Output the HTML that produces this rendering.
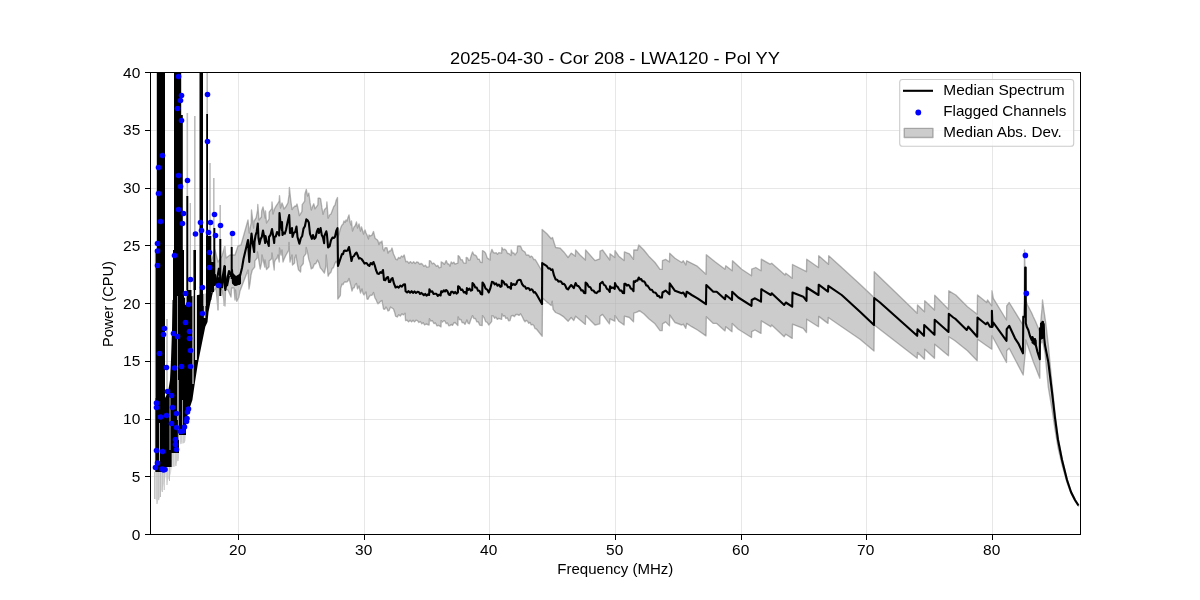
<!DOCTYPE html>
<html><head><meta charset="utf-8"><title>Median Spectrum</title>
<style>html,body{margin:0;padding:0;background:#fff;width:1200px;height:600px;overflow:hidden}svg{display:block;will-change:transform}</style>
</head><body>
<svg width="1200" height="600" viewBox="0 0 1200 600" font-family='"Liberation Sans", sans-serif'><rect x="0" y="0" width="1200" height="600" fill="#ffffff"/><defs><clipPath id="ax"><rect x="150" y="72" width="931" height="463"/></clipPath></defs><g clip-path="url(#ax)"><polygon points="211.0,262.0 215.0,250.0 218.0,262.0 222.0,256.0 224.7,246.7 226.0,258.0 230.0,255.0 235.0,255.0 238.0,246.0 241.0,245.0 248.0,220.0 249.2,233.0 251.2,222.8 251.5,210.0 253.6,228.0 253.8,221.7 256.2,217.6 257.6,210.0 257.8,204.5 259.0,220.0 261.4,217.0 261.7,210.9 263.0,207.0 265.2,218.0 265.5,211.0 266.5,223.0 269.0,219.1 269.2,212.1 271.8,208.6 272.0,202.0 273.0,214.0 274.5,209.0 276.0,206.1 277.5,204.0 279.2,201.1 279.5,195.6 280.5,208.0 282.0,203.0 283.0,205.6 284.0,209.0 285.5,207.3 287.9,203.0 289.1,194.9 289.4,187.5 290.7,199.8 292.0,209.5 293.5,207.4 295.0,206.0 296.0,206.3 297.0,204.0 298.2,209.4 299.4,215.6 301.9,211.7 302.2,204.7 304.7,201.2 304.9,194.2 306.3,189.4 307.5,196.0 308.8,193.1 310.1,202.9 311.3,210.0 312.6,206.5 313.8,203.8 315.0,208.8 317.9,204.8 318.1,198.1 319.4,198.1 320.6,198.8 321.9,207.9 323.1,214.4 324.4,209.8 326.6,207.4 326.9,201.9 328.1,218.1 329.6,215.0 331.0,214.0 332.5,210.0 333.8,206.5 335.0,205.1 336.2,200.2 337.5,197.5 337.8,237.0 338.9,234.8 340.0,230.0 341.0,227.1 342.0,225.0 343.0,224.3 344.0,221.0 345.0,222.5 346.0,220.0 347.0,221.0 348.0,217.6 349.0,215.0 350.0,222.0 351.0,225.0 351.5,221.0 352.5,231.0 354.0,227.0 355.2,225.8 356.5,222.0 357.5,228.0 359.0,224.0 360.5,231.0 361.5,227.0 362.5,230.1 363.5,234.0 365.0,230.0 366.0,233.0 367.0,235.0 368.5,239.0 369.0,235.0 370.5,236.0 372.0,235.1 373.5,231.5 375.0,238.0 376.0,239.0 377.0,239.6 378.0,241.0 379.0,244.5 380.0,242.0 381.0,242.8 382.0,241.0 383.0,249.0 384.0,251.0 385.0,248.0 386.0,247.6 387.0,248.0 388.0,253.0 389.5,251.0 390.8,250.8 392.0,248.0 393.5,254.0 394.6,256.2 395.8,259.2 397.2,259.8 398.6,257.4 400.0,258.4 401.4,256.0 402.8,257.0 404.2,255.0 405.8,261.7 407.4,261.4 408.9,263.2 410.5,261.6 412.1,263.4 413.6,261.8 415.2,263.6 416.7,262.0 418.3,262.5 419.7,264.4 421.1,263.4 422.5,264.4 423.9,266.3 425.4,265.2 426.9,267.4 429.1,266.7 429.4,260.6 430.8,261.2 432.2,263.8 433.6,263.1 435.0,264.4 436.4,266.4 437.8,265.4 439.2,267.8 441.0,267.2 441.2,261.9 442.8,262.8 444.4,264.4 446.2,260.6 447.5,263.8 448.8,264.0 450.0,266.2 451.2,261.9 452.5,263.5 453.8,262.1 455.0,264.1 457.9,263.1 458.1,255.6 459.5,256.7 460.9,259.9 462.2,259.7 463.6,262.9 466.0,263.1 466.2,257.5 467.5,257.9 468.8,260.5 470.0,260.0 471.2,255.6 472.5,251.9 473.8,254.8 475.0,255.0 476.4,256.1 477.8,259.3 479.1,259.1 480.5,262.3 482.2,262.5 482.5,250.6 484.1,251.5 485.6,253.1 487.2,257.9 490.1,260.0 490.3,254.3 491.9,249.4 493.4,252.6 495.0,253.1 496.2,252.7 497.5,254.4 498.8,252.7 501.6,253.1 501.9,247.5 503.3,249.8 504.8,249.2 506.2,250.6 507.5,253.6 508.8,253.5 511.0,255.6 511.2,250.0 512.5,253.0 513.8,252.9 515.0,255.0 517.2,251.9 517.5,246.2 519.0,245.9 520.6,246.2 522.2,250.1 523.8,251.2 525.0,252.1 526.2,255.1 527.5,255.0 528.8,255.1 530.0,257.3 531.2,256.1 532.5,257.0 533.8,259.7 535.0,259.4 536.2,261.2 541.9,271.0 542.1,229.4 546.9,233.8 551.2,238.8 552.5,237.5 555.6,247.5 560.0,248.1 563.8,251.9 568.1,257.5 571.2,253.1 575.4,256.2 575.6,250.0 580.0,255.0 585.4,260.0 585.6,250.0 595.0,260.6 599.8,258.8 600.0,251.2 602.5,250.0 609.8,260.0 610.0,253.8 614.8,257.5 615.0,250.6 618.8,256.2 624.1,260.6 624.4,251.9 629.4,253.8 633.5,259.4 633.8,250.0 637.5,250.0 638.8,245.0 643.8,250.0 648.8,256.2 655.0,262.5 660.0,269.4 662.2,269.4 662.5,260.6 665.6,259.4 669.5,262.0 669.7,253.3 675.0,258.3 681.7,262.5 683.3,260.8 685.8,265.0 686.7,260.8 696.7,265.8 706.0,274.2 706.3,254.7 715.0,261.7 725.0,269.2 725.8,265.8 732.2,270.8 732.5,260.8 741.7,269.2 751.5,275.8 751.7,269.2 755.8,267.5 761.0,270.8 761.3,259.2 770.0,264.2 771.7,263.3 785.0,275.0 785.8,273.3 792.2,278.3 792.5,264.5 806.5,271.7 806.7,259.2 818.5,267.5 818.7,255.8 828.5,264.2 828.7,255.8 841.7,267.5 860.0,284.2 874.0,297.5 874.2,271.7 917.2,313.3 917.5,305.0 924.5,311.7 924.7,300.8 934.5,310.0 934.7,295.3 948.5,309.2 948.8,290.8 955.8,295.0 967.5,306.7 977.2,314.2 977.5,295.0 986.7,302.5 987.5,300.0 991.8,305.8 992.0,290.8 993.3,298.3 1006.5,320.0 1006.7,305.8 1009.2,302.5 1023.0,325.0 1024.2,300.0 1024.5,250.0 1025.8,300.0 1027.5,305.0 1031.7,313.0 1033.3,316.7 1035.8,322.0 1039.8,331.7 1042.2,306.7 1042.5,300.0 1044.0,311.0 1045.8,323.3 1048.3,345.0 1052.0,383.9 1055.0,412.6 1058.0,436.5 1062.0,457.8 1067.0,478.8 1071.0,491.3 1075.0,499.5 1078.5,505.2 1078.5,506.2 1075.0,501.0 1071.0,493.5 1067.0,482.5 1062.0,464.7 1058.0,447.5 1055.0,429.4 1052.0,409.1 1048.3,387.1 1045.0,353.0 1042.5,340.0 1040.0,345.0 1039.8,378.3 1035.8,368.0 1033.3,361.7 1030.0,352.0 1027.5,345.0 1025.8,340.0 1025.5,350.0 1023.2,375.0 1009.2,348.3 1006.7,350.8 1006.5,362.5 992.0,335.8 991.8,349.2 986.7,345.8 977.5,339.2 977.2,360.8 967.5,350.8 955.0,340.8 948.8,336.7 948.5,355.8 934.7,344.2 934.5,358.3 924.7,349.2 924.5,359.2 917.5,352.5 917.2,358.3 874.2,325.0 874.0,351.0 860.0,339.2 841.7,326.7 828.3,317.5 828.0,323.4 818.7,316.4 818.5,326.7 806.7,319.2 806.5,332.5 803.3,328.4 792.5,324.2 792.2,338.4 785.8,334.2 784.2,336.7 771.7,325.0 770.8,326.7 761.3,320.9 761.0,333.4 755.0,330.0 751.7,331.7 751.5,337.5 738.3,329.2 732.2,323.4 732.0,331.7 725.8,326.7 725.0,330.9 716.7,323.4 713.3,323.4 706.3,316.7 706.0,335.9 697.5,330.0 691.7,326.7 686.7,323.4 685.8,328.4 683.3,324.2 681.7,325.0 675.0,322.5 669.7,315.0 669.5,325.9 665.6,321.9 662.5,323.8 662.2,330.6 660.0,330.6 655.0,323.8 648.8,318.8 643.8,313.8 639.4,310.6 637.5,311.9 633.8,313.1 633.5,321.9 629.4,317.5 624.4,316.2 624.1,325.0 618.8,321.2 615.0,315.6 614.8,321.2 610.0,318.8 609.4,323.8 602.5,314.4 600.0,316.2 599.8,323.8 595.0,325.0 585.6,315.6 585.4,324.4 580.0,320.0 575.6,316.2 573.8,320.6 571.2,317.5 568.1,321.2 563.8,316.9 560.0,314.4 555.6,312.5 553.1,309.4 552.2,301.2 551.2,305.6 546.9,301.9 542.5,298.1 542.2,336.2 536.2,328.8 535.0,328.6 533.8,325.5 532.5,324.4 531.2,324.9 530.0,322.4 528.8,323.3 527.5,321.2 526.2,320.4 525.0,321.7 523.8,320.0 522.2,316.5 520.6,313.8 519.0,315.4 517.5,314.4 515.9,314.5 514.4,316.6 512.8,315.4 511.2,316.2 510.0,320.6 508.6,320.8 507.3,317.9 505.9,318.5 504.6,315.6 503.2,316.2 501.9,313.8 501.6,319.4 498.6,318.4 497.3,319.4 495.9,317.1 494.6,318.2 493.2,315.8 491.9,315.6 491.6,321.6 488.8,325.0 487.2,322.3 485.6,321.6 484.1,317.6 482.5,315.6 482.2,325.6 479.8,325.2 478.3,321.9 476.9,321.9 475.4,318.5 474.0,318.6 472.5,315.6 470.9,319.3 469.4,323.8 468.1,323.2 466.9,320.0 465.0,324.4 463.6,322.5 462.2,322.7 460.9,319.5 459.5,319.7 458.1,316.9 457.9,325.6 455.0,322.5 453.8,322.9 452.5,325.4 451.2,324.4 450.0,325.6 448.8,325.8 447.5,323.0 446.2,323.6 445.0,321.2 443.8,320.6 442.5,322.1 441.2,320.6 441.0,326.9 438.5,325.3 437.0,325.9 435.5,323.0 433.9,323.5 432.4,320.7 430.9,321.2 429.4,318.8 429.1,325.0 426.1,324.0 424.6,325.0 423.2,322.7 421.8,323.8 420.4,321.5 418.9,322.5 417.5,320.6 416.0,320.2 414.5,321.9 413.0,320.2 411.6,321.9 410.1,320.2 408.6,321.9 407.1,320.2 405.6,320.6 405.0,313.1 403.4,314.9 401.9,313.8 400.3,316.0 398.7,314.8 397.2,317.0 395.6,316.2 394.6,312.2 393.5,309.0 392.0,308.0 390.5,307.0 389.2,310.3 388.0,311.0 387.0,308.6 386.0,307.0 384.8,309.3 383.5,309.0 382.0,300.5 380.5,301.4 379.0,303.0 378.0,303.8 377.0,302.0 376.0,299.6 375.0,298.0 373.5,292.5 372.0,295.3 370.5,295.1 369.0,297.0 368.0,299.3 367.0,299.0 366.0,292.0 365.0,293.1 364.0,295.0 363.0,293.3 362.0,289.0 360.5,293.0 359.0,286.0 357.5,289.0 356.5,283.5 355.3,284.6 354.2,287.8 353.0,288.0 352.0,291.0 351.0,286.1 350.0,282.0 349.0,278.5 347.5,281.6 346.0,282.0 345.0,281.9 344.0,282.5 343.0,284.6 342.0,284.0 340.6,288.6 340.4,295.3 337.8,299.0 337.5,264.2 336.2,261.2 334.9,263.4 333.5,267.6 332.2,268.4 330.8,272.6 329.5,273.4 328.1,276.2 326.2,255.0 326.0,265.4 324.4,273.1 321.7,269.4 320.3,267.9 318.9,262.9 317.5,260.0 315.9,263.5 314.4,264.0 312.8,267.9 311.2,268.8 310.0,263.0 308.8,259.4 307.5,252.4 306.2,247.5 306.0,253.7 303.6,256.9 303.3,263.5 300.9,266.7 300.6,272.0 298.5,269.8 297.5,265.0 296.0,255.0 294.8,257.9 294.6,263.0 292.5,265.0 292.0,255.0 291.0,258.1 290.0,262.0 289.0,242.5 288.8,250.1 286.0,255.0 284.5,258.1 283.0,262.0 282.0,250.0 281.0,255.0 279.5,248.0 279.2,262.0 278.0,255.0 276.8,258.6 275.7,259.3 274.5,262.0 274.2,270.0 272.0,253.0 271.8,258.4 269.2,260.9 269.0,266.7 266.5,269.5 265.0,260.0 264.8,267.0 262.0,255.0 261.8,261.6 260.2,269.0 257.5,252.0 257.2,257.9 254.9,260.8 254.7,267.1 252.3,270.0 251.0,275.0 250.0,283.3 249.0,289.0 248.0,270.0 240.0,291.0 238.8,297.5 236.7,301.3 235.6,290.0 235.0,300.0 234.0,288.0 231.6,288.0 231.0,297.0 228.0,290.0 225.6,289.0 225.0,306.0 222.0,290.0 218.6,288.0 218.0,310.0 216.0,288.0 213.0,292.0" fill="#cccccc" stroke="rgba(104,104,104,0.48)" stroke-width="1.35" stroke-linejoin="round"/><polygon points="155.0,472.0 155.0,499.0 156.5,500.0 157.0,504.0 158.5,500.0 160.0,497.0 161.0,492.0 163.0,487.0 165.0,480.0 166.0,474.0 166.0,467.0 167.0,484.0 168.0,480.0 169.5,478.0 171.0,473.0 171.7,468.0 171.7,453.0 173.0,466.0 175.0,467.0 177.0,462.0 179.0,458.0 179.0,435.0 180.0,445.0 181.0,442.0 183.0,444.0 185.5,441.0 186.0,435.0 186.0,420.0 187.2,426.0 187.0,417.0 186.0,420.0 186.0,435.0 179.0,435.0 179.0,453.0 171.7,453.0 171.7,467.0 166.0,467.0 166.0,472.0" fill="#dcdcdc" stroke="none"/><rect x="154.1" y="472" width="1" height="27" fill="#bdbdbd"/><rect x="156.5" y="472" width="1" height="32" fill="#bdbdbd"/><rect x="158.3" y="472" width="1" height="28" fill="#bdbdbd"/><rect x="160.0" y="472" width="1" height="25" fill="#bdbdbd"/><rect x="161.8" y="472" width="1" height="20" fill="#bdbdbd"/><rect x="163.7" y="472" width="1" height="18" fill="#bdbdbd"/><rect x="166.5" y="467" width="1" height="18" fill="#bdbdbd"/><rect x="169.0" y="467" width="1" height="14" fill="#bdbdbd"/><rect x="172.5" y="453" width="1" height="14" fill="#bdbdbd"/><rect x="175.5" y="453" width="1" height="13" fill="#bdbdbd"/><rect x="177.5" y="453" width="1" height="8" fill="#bdbdbd"/><rect x="180.5" y="435" width="1" height="9" fill="#bdbdbd"/><rect x="183.5" y="435" width="1" height="8" fill="#bdbdbd"/><rect x="156.20" y="72" width="0.8" height="178" fill="#bdbdbd"/><rect x="154.80" y="250" width="0.8" height="222" fill="#bdbdbd"/><rect x="186.50" y="113" width="1.6" height="83" fill="#bdbdbd"/><rect x="194.00" y="116" width="1.6" height="134" fill="#bdbdbd"/><rect x="206.40" y="72" width="1.6" height="42" fill="#bdbdbd"/><rect x="209.20" y="163" width="1.6" height="73" fill="#bdbdbd"/><rect x="213.00" y="178" width="1.6" height="50" fill="#bdbdbd"/><rect x="219.40" y="205" width="1.6" height="34" fill="#bdbdbd"/><rect x="223.90" y="246" width="1.6" height="20" fill="#bdbdbd"/><rect x="230.80" y="233" width="1.6" height="14" fill="#bdbdbd"/><rect x="166.20" y="319" width="1.6" height="76" fill="#bdbdbd"/><rect x="189.60" y="203" width="1.4" height="87" fill="#bdbdbd"/><rect x="217.30" y="285" width="1.4" height="25" fill="#bdbdbd"/><rect x="223.30" y="290" width="1.4" height="16" fill="#bdbdbd"/><rect x="238" y="72" width="1" height="462" fill="rgba(176,176,176,0.3)"/><rect x="364" y="72" width="1" height="462" fill="rgba(176,176,176,0.3)"/><rect x="489" y="72" width="1" height="462" fill="rgba(176,176,176,0.3)"/><rect x="615" y="72" width="1" height="462" fill="rgba(176,176,176,0.3)"/><rect x="741" y="72" width="1" height="462" fill="rgba(176,176,176,0.3)"/><rect x="866" y="72" width="1" height="462" fill="rgba(176,176,176,0.3)"/><rect x="992" y="72" width="1" height="462" fill="rgba(176,176,176,0.3)"/><rect x="150" y="476" width="930" height="1" fill="rgba(176,176,176,0.3)"/><rect x="150" y="419" width="930" height="1" fill="rgba(176,176,176,0.3)"/><rect x="150" y="361" width="930" height="1" fill="rgba(176,176,176,0.3)"/><rect x="150" y="303" width="930" height="1" fill="rgba(176,176,176,0.3)"/><rect x="150" y="245" width="930" height="1" fill="rgba(176,176,176,0.3)"/><rect x="150" y="188" width="930" height="1" fill="rgba(176,176,176,0.3)"/><rect x="150" y="130" width="930" height="1" fill="rgba(176,176,176,0.3)"/><rect x="157" y="72" width="8.00" height="178" fill="#000"/><rect x="155.6" y="250" width="9.40" height="222" fill="#000"/><rect x="174" y="72" width="7.20" height="43" fill="#000"/><rect x="174" y="115" width="8.80" height="135" fill="#000"/><rect x="173" y="250" width="11.00" height="52" fill="#000"/><rect x="186.3" y="196" width="2.00" height="106" fill="#000"/><rect x="187" y="290" width="4.50" height="12" fill="#000"/><rect x="193.4" y="250" width="2.60" height="52" fill="#000"/><rect x="199.5" y="72" width="3.50" height="230" fill="#000"/><rect x="206.2" y="114" width="1.80" height="126" fill="#000"/><rect x="206" y="236" width="5.30" height="64" fill="#000"/><rect x="213.3" y="228" width="2.00" height="58" fill="#000"/><rect x="206" y="262" width="8.00" height="30" fill="#000"/><rect x="219.3" y="239" width="2.00" height="57" fill="#000"/><rect x="230.7" y="247" width="2.00" height="32" fill="#000"/><rect x="224" y="266" width="2.00" height="23" fill="#000"/><polygon points="172.5,300.0 213.0,292.0 210.5,302.0 208.5,312.0 207.5,322.0 205.3,326.7 201.6,345.0 198.0,363.0 195.0,382.0 192.4,400.0 189.0,410.0 187.0,417.0 186.0,420.0 186.0,435.0 179.0,435.0 179.0,453.0 171.7,453.0 171.7,467.0 166.0,467.0 166.0,472.0 155.6,472.0 155.6,398.0 165.0,398.0 168.0,392.0 170.0,380.0 171.0,360.0 172.0,330.0" fill="#000"/><polygon points="1031.5,336.0 1036.5,340.0 1036.5,347.0 1031.5,343.0" fill="#000"/><polygon points="1040.0,323.0 1044.0,321.0 1044.5,338.0 1040.5,340.0" fill="#000"/><polygon points="232.0,272.0 236.0,276.0 241.0,273.0 241.0,284.0 236.0,286.0 232.0,283.0" fill="#000"/><polyline points="212.0,271.0 216.0,285.0 219.0,268.0 222.0,288.0 224.5,272.0 227.0,286.0 229.0,276.0" fill="none" stroke="#000" stroke-width="2.1"/><rect x="159.10" y="423" width="0.8" height="41" fill="#ffffff" fill-opacity="0.85"/><rect x="169.60" y="395" width="0.8" height="55" fill="#ffffff" fill-opacity="0.85"/><rect x="177.90" y="380" width="0.8" height="60" fill="#ffffff" fill-opacity="0.85"/><rect x="182.15" y="400" width="0.7" height="30" fill="#ffffff" fill-opacity="0.85"/><rect x="192.40" y="290" width="1.2" height="94" fill="#ffffff" fill-opacity="0.85"/><rect x="195.00" y="290" width="2.0" height="70" fill="#ffffff" fill-opacity="0.85"/><rect x="177.25" y="296" width="0.7" height="124" fill="#ffffff" fill-opacity="0.85"/><rect x="185.00" y="290" width="1.6" height="15" fill="#ffffff" fill-opacity="0.85"/><rect x="203.30" y="290" width="2.6" height="16" fill="#ffffff" fill-opacity="0.85"/><rect x="203.80" y="306" width="1.6" height="12" fill="#ffffff" fill-opacity="0.85"/><polyline points="211.0,272.0 213.0,280.0 215.0,275.0 217.0,286.0 219.0,278.0 220.0,287.0 222.0,281.0 224.5,266.0 225.3,290.0 227.0,280.0 229.0,271.0 231.0,276.0 232.0,270.0 233.0,283.0 235.0,285.0 237.0,282.0 239.0,284.0 240.0,276.0 242.0,268.0 243.5,259.0 248.0,240.0 249.3,262.0 250.0,250.0 251.5,233.5 252.9,244.8 254.2,252.0 254.5,242.0 255.6,235.2 256.7,231.7 257.8,223.5 258.5,238.0 259.5,244.0 260.7,238.9 261.8,237.0 263.0,230.5 264.1,236.2 265.2,243.0 265.5,236.0 266.6,241.3 267.7,242.1 268.8,246.0 269.0,237.0 270.5,235.0 272.0,229.0 273.1,235.4 274.2,243.0 274.5,237.0 275.8,236.5 277.0,232.0 278.1,233.2 279.2,235.5 279.5,213.0 280.6,223.5 281.8,230.0 282.0,222.0 282.5,235.0 283.7,232.7 284.8,233.7 286.0,230.0 287.6,221.9 289.2,215.0 290.0,233.0 291.0,232.5 292.0,228.0 292.5,237.0 293.8,232.9 295.2,232.0 296.5,226.5 297.5,237.0 299.4,243.8 300.8,238.3 302.2,236.0 303.5,228.6 304.9,226.3 306.3,219.4 307.6,220.3 308.8,222.5 310.0,233.8 311.9,238.8 313.0,235.0 314.4,238.8 315.6,237.5 316.9,231.5 318.1,228.8 319.0,233.0 320.6,228.1 321.8,235.1 323.0,237.5 324.1,243.1 324.4,236.0 326.3,231.3 326.9,234.0 328.1,247.5 329.6,246.2 331.0,240.2 332.5,237.5 333.8,238.0 335.0,236.7 336.3,230.8 337.5,228.1 338.0,266.0 342.0,254.0 343.0,254.1 344.0,251.0 345.0,250.5 346.0,251.0 347.5,250.6 349.0,247.0 350.5,255.0 351.5,261.0 352.5,257.0 354.0,256.0 355.2,253.8 356.5,252.5 358.0,256.0 359.0,258.6 360.0,258.0 361.5,259.0 363.0,261.0 364.5,263.6 366.0,263.0 367.0,263.5 368.0,265.0 369.4,265.9 370.8,263.0 372.1,264.4 373.5,262.0 374.8,265.5 376.0,270.0 377.5,273.6 379.0,274.0 380.3,272.2 381.7,272.9 383.0,270.0 384.0,280.0 385.3,280.2 386.7,277.6 388.0,277.0 389.0,282.0 390.2,281.9 391.3,279.0 392.5,278.0 394.1,283.9 395.6,287.5 397.2,286.6 398.7,287.7 400.3,285.6 401.9,286.6 403.4,284.6 405.0,284.4 405.6,291.2 407.1,292.5 408.6,291.1 410.1,292.7 411.6,291.2 413.0,292.9 414.5,291.4 416.0,293.0 417.5,291.9 418.8,292.0 420.0,294.0 421.2,292.9 422.5,293.8 423.8,295.2 425.2,293.9 426.5,295.7 427.8,294.4 429.1,295.0 429.4,289.4 430.8,291.7 432.2,291.2 433.6,293.9 435.0,293.8 436.4,293.8 437.8,295.8 439.2,294.7 440.6,295.5 441.2,291.2 442.5,292.1 443.8,290.3 445.0,291.5 446.2,290.0 447.5,291.3 448.8,294.5 450.0,295.0 451.2,291.9 452.6,291.7 453.9,293.3 455.2,291.9 456.5,293.6 457.9,292.5 458.1,286.2 459.5,287.1 460.9,289.9 462.4,289.6 463.8,292.4 465.2,292.1 466.6,293.8 466.9,288.1 468.2,289.8 469.6,288.7 470.9,290.7 472.2,290.0 472.5,283.1 473.9,284.4 475.3,287.5 476.7,287.6 478.1,290.8 479.5,290.8 480.9,294.0 482.2,294.4 482.5,282.5 484.1,284.6 485.6,288.7 487.2,289.6 488.8,292.5 490.3,288.4 491.9,281.9 493.3,282.2 494.7,284.3 496.1,283.4 497.5,285.6 498.9,284.6 500.3,286.8 501.6,286.2 501.9,280.6 503.4,281.6 504.9,284.5 506.4,284.3 508.0,287.2 509.5,287.0 511.0,288.8 511.2,283.1 512.5,284.9 513.8,284.0 515.0,285.0 516.2,284.0 517.5,280.6 519.0,279.9 520.6,280.0 522.2,284.3 523.8,286.2 525.0,286.5 526.2,288.7 527.5,288.1 528.8,288.2 530.0,290.2 531.2,289.2 532.5,290.0 533.8,292.4 535.0,292.1 536.2,293.8 542.0,304.0 542.2,263.1 546.9,266.2 548.4,268.5 549.8,268.4 551.2,270.0 552.5,269.4 554.0,275.4 555.6,279.4 557.1,279.7 558.5,281.6 560.0,281.2 561.2,281.8 562.5,283.9 563.8,283.8 565.2,285.3 566.6,288.5 568.1,289.4 569.7,286.9 571.2,285.0 573.8,288.1 575.6,283.1 577.1,285.8 578.5,286.1 580.0,288.1 581.3,290.4 582.7,290.3 584.0,292.9 585.4,293.1 585.6,282.5 587.2,283.9 588.7,286.8 590.3,287.2 591.9,290.2 593.4,290.5 595.0,292.5 596.6,293.1 598.2,291.4 599.8,291.2 600.0,283.8 602.5,281.9 604.0,284.9 605.4,285.6 606.9,288.9 608.3,289.6 609.8,291.9 610.0,286.2 611.6,288.1 613.2,287.6 614.8,288.8 615.0,283.1 616.2,286.0 617.5,286.6 618.8,288.8 620.1,290.8 621.5,290.6 622.8,293.0 624.1,293.1 624.4,283.8 625.6,283.9 626.9,285.7 628.1,284.8 629.4,285.6 630.8,288.5 632.1,289.1 633.5,291.2 633.8,281.2 635.0,282.0 636.2,280.5 637.5,280.6 638.8,277.5 640.0,279.4 641.2,279.1 642.5,281.3 643.8,281.2 645.0,282.5 646.2,285.4 647.5,285.6 648.8,287.5 650.3,289.8 651.9,289.7 653.4,292.2 655.0,292.5 656.2,293.4 657.5,296.0 658.8,295.9 660.0,297.5 661.9,297.5 662.5,292.5 665.6,290.6 669.5,294.2 669.7,283.3 675.0,290.8 681.7,293.3 683.3,292.5 685.8,296.7 686.7,291.7 691.7,295.0 697.5,298.3 706.0,304.2 706.3,285.0 713.3,291.7 716.7,291.7 725.0,299.2 725.8,295.0 732.0,300.0 732.2,291.7 738.3,297.5 751.5,305.8 751.7,300.0 755.0,298.3 761.0,301.7 761.3,289.2 770.8,295.0 771.7,293.3 784.2,305.0 785.8,302.5 792.2,306.7 792.5,292.5 803.3,296.7 806.5,300.8 806.7,287.5 818.5,295.0 818.7,284.7 828.0,291.7 828.3,285.8 841.7,295.0 860.0,311.7 874.0,325.0 874.2,298.0 880.0,302.5 917.2,335.8 917.5,329.2 924.0,335.8 924.2,325.0 934.5,334.7 934.7,319.7 948.5,332.0 948.8,313.7 953.3,317.5 955.8,319.2 966.7,330.0 968.3,326.7 977.2,336.7 977.5,317.5 985.8,324.2 987.5,322.5 990.0,326.7 991.9,327.0 991.9,310.8 992.5,326.7 993.3,322.5 1006.5,340.8 1006.7,329.2 1009.2,325.8 1015.0,338.3 1018.3,343.3 1023.0,353.3 1023.3,316.7 1025.0,316.0 1025.2,267.5 1025.7,267.5 1025.8,323.0 1026.7,326.7 1028.3,330.0 1030.0,336.0 1031.7,340.0 1032.5,337.0 1034.2,343.0 1035.0,339.0 1035.8,345.0 1037.5,352.0 1039.8,359.2 1040.0,328.3 1041.5,338.0 1041.7,326.0 1042.5,321.7 1043.5,335.0 1043.7,324.0 1044.2,338.0 1045.0,345.0 1048.3,362.0 1052.0,392.0 1055.0,418.0 1058.0,440.0 1062.0,460.0 1067.0,480.0 1071.0,492.0 1075.0,500.0 1078.5,505.5" fill="none" stroke="#000" stroke-width="2.1" stroke-linejoin="round" stroke-linecap="butt"/><circle cx="178.5" cy="76.5" r="2.8" fill="#0000ff"/><circle cx="181.5" cy="95.5" r="2.8" fill="#0000ff"/><circle cx="180.5" cy="100.5" r="2.8" fill="#0000ff"/><circle cx="177.5" cy="108.5" r="2.8" fill="#0000ff"/><circle cx="181.5" cy="120.5" r="2.8" fill="#0000ff"/><circle cx="207.5" cy="94.5" r="2.8" fill="#0000ff"/><circle cx="207.5" cy="141.5" r="2.8" fill="#0000ff"/><circle cx="162.5" cy="155.5" r="2.8" fill="#0000ff"/><circle cx="158.5" cy="167.5" r="2.8" fill="#0000ff"/><circle cx="178.5" cy="175.5" r="2.8" fill="#0000ff"/><circle cx="187.5" cy="180.5" r="2.8" fill="#0000ff"/><circle cx="180.5" cy="186.5" r="2.8" fill="#0000ff"/><circle cx="158.5" cy="193.5" r="2.8" fill="#0000ff"/><circle cx="160.5" cy="221.5" r="2.8" fill="#0000ff"/><circle cx="157.5" cy="243.5" r="2.8" fill="#0000ff"/><circle cx="157.5" cy="251" r="2.8" fill="#0000ff"/><circle cx="178.5" cy="209.5" r="2.8" fill="#0000ff"/><circle cx="183.5" cy="213.5" r="2.8" fill="#0000ff"/><circle cx="182.5" cy="223.5" r="2.8" fill="#0000ff"/><circle cx="195.5" cy="234" r="2.8" fill="#0000ff"/><circle cx="200.5" cy="222.5" r="2.8" fill="#0000ff"/><circle cx="201.5" cy="230.5" r="2.8" fill="#0000ff"/><circle cx="208.5" cy="232.5" r="2.8" fill="#0000ff"/><circle cx="210.5" cy="222.5" r="2.8" fill="#0000ff"/><circle cx="214.5" cy="214.5" r="2.8" fill="#0000ff"/><circle cx="215.5" cy="235.5" r="2.8" fill="#0000ff"/><circle cx="220.5" cy="225.5" r="2.8" fill="#0000ff"/><circle cx="232.5" cy="233.5" r="2.8" fill="#0000ff"/><circle cx="157.5" cy="265.5" r="2.8" fill="#0000ff"/><circle cx="174.5" cy="255.5" r="2.8" fill="#0000ff"/><circle cx="190.5" cy="279.5" r="2.8" fill="#0000ff"/><circle cx="185.5" cy="293.5" r="2.8" fill="#0000ff"/><circle cx="188.5" cy="304.5" r="2.8" fill="#0000ff"/><circle cx="202.5" cy="287.5" r="2.8" fill="#0000ff"/><circle cx="209.5" cy="252.5" r="2.8" fill="#0000ff"/><circle cx="209.5" cy="267.5" r="2.8" fill="#0000ff"/><circle cx="218.5" cy="285.5" r="2.8" fill="#0000ff"/><circle cx="202.5" cy="313.5" r="2.8" fill="#0000ff"/><circle cx="185.5" cy="322.5" r="2.8" fill="#0000ff"/><circle cx="164.5" cy="328.5" r="2.8" fill="#0000ff"/><circle cx="163.5" cy="334.5" r="2.8" fill="#0000ff"/><circle cx="173.5" cy="333.5" r="2.8" fill="#0000ff"/><circle cx="177.5" cy="336.5" r="2.8" fill="#0000ff"/><circle cx="189.5" cy="331.5" r="2.8" fill="#0000ff"/><circle cx="189.5" cy="338.5" r="2.8" fill="#0000ff"/><circle cx="159.5" cy="353.5" r="2.8" fill="#0000ff"/><circle cx="190.5" cy="350.5" r="2.8" fill="#0000ff"/><circle cx="166.5" cy="367.5" r="2.8" fill="#0000ff"/><circle cx="174.5" cy="368" r="2.8" fill="#0000ff"/><circle cx="181.5" cy="366.5" r="2.8" fill="#0000ff"/><circle cx="190.5" cy="366.5" r="2.8" fill="#0000ff"/><circle cx="167.5" cy="391.5" r="2.8" fill="#0000ff"/><circle cx="171.5" cy="395.5" r="2.8" fill="#0000ff"/><circle cx="156.5" cy="403" r="2.8" fill="#0000ff"/><circle cx="156.5" cy="407.5" r="2.8" fill="#0000ff"/><circle cx="172.5" cy="407.5" r="2.8" fill="#0000ff"/><circle cx="160.5" cy="417" r="2.8" fill="#0000ff"/><circle cx="166.5" cy="415.5" r="2.8" fill="#0000ff"/><circle cx="176.5" cy="413.5" r="2.8" fill="#0000ff"/><circle cx="188.5" cy="409" r="2.8" fill="#0000ff"/><circle cx="187.5" cy="412" r="2.8" fill="#0000ff"/><circle cx="187" cy="418.5" r="2.8" fill="#0000ff"/><circle cx="186.5" cy="421.5" r="2.8" fill="#0000ff"/><circle cx="171.5" cy="423.5" r="2.8" fill="#0000ff"/><circle cx="176.5" cy="427.5" r="2.8" fill="#0000ff"/><circle cx="184.5" cy="427" r="2.8" fill="#0000ff"/><circle cx="180.5" cy="431.5" r="2.8" fill="#0000ff"/><circle cx="183" cy="431" r="2.8" fill="#0000ff"/><circle cx="175.5" cy="439.5" r="2.8" fill="#0000ff"/><circle cx="175.5" cy="444.5" r="2.8" fill="#0000ff"/><circle cx="176.5" cy="449.5" r="2.8" fill="#0000ff"/><circle cx="156.5" cy="450.5" r="2.8" fill="#0000ff"/><circle cx="162.5" cy="451.5" r="2.8" fill="#0000ff"/><circle cx="157.5" cy="463" r="2.8" fill="#0000ff"/><circle cx="155.5" cy="467.5" r="2.8" fill="#0000ff"/><circle cx="162" cy="469" r="2.8" fill="#0000ff"/><circle cx="163.5" cy="470" r="2.8" fill="#0000ff"/><circle cx="165" cy="469.5" r="2.8" fill="#0000ff"/><circle cx="1025.4" cy="255.4" r="2.8" fill="#0000ff"/><circle cx="1026.4" cy="293.4" r="2.8" fill="#0000ff"/></g><rect x="150" y="72" width="931" height="1" fill="#000"/><rect x="150" y="534" width="931" height="1" fill="#000"/><rect x="150" y="72" width="1" height="463" fill="#000"/><rect x="1080" y="72" width="1" height="463" fill="#000"/><rect x="238" y="535" width="1" height="5" fill="#000"/><text x="237.7" y="554.7" font-size="13.9" text-anchor="middle" textLength="17.2" lengthAdjust="spacingAndGlyphs" fill="#000">20</text><rect x="364" y="535" width="1" height="5" fill="#000"/><text x="363.7" y="554.7" font-size="13.9" text-anchor="middle" textLength="17.2" lengthAdjust="spacingAndGlyphs" fill="#000">30</text><rect x="489" y="535" width="1" height="5" fill="#000"/><text x="488.7" y="554.7" font-size="13.9" text-anchor="middle" textLength="17.2" lengthAdjust="spacingAndGlyphs" fill="#000">40</text><rect x="615" y="535" width="1" height="5" fill="#000"/><text x="614.7" y="554.7" font-size="13.9" text-anchor="middle" textLength="17.2" lengthAdjust="spacingAndGlyphs" fill="#000">50</text><rect x="741" y="535" width="1" height="5" fill="#000"/><text x="740.7" y="554.7" font-size="13.9" text-anchor="middle" textLength="17.2" lengthAdjust="spacingAndGlyphs" fill="#000">60</text><rect x="866" y="535" width="1" height="5" fill="#000"/><text x="865.7" y="554.7" font-size="13.9" text-anchor="middle" textLength="17.2" lengthAdjust="spacingAndGlyphs" fill="#000">70</text><rect x="992" y="535" width="1" height="5" fill="#000"/><text x="991.7" y="554.7" font-size="13.9" text-anchor="middle" textLength="17.2" lengthAdjust="spacingAndGlyphs" fill="#000">80</text><rect x="145" y="534" width="5" height="1" fill="#000"/><text x="140.3" y="539.70" font-size="13.9" text-anchor="end" textLength="8.6" lengthAdjust="spacingAndGlyphs" fill="#000">0</text><rect x="145" y="476" width="5" height="1" fill="#000"/><text x="140.3" y="481.95" font-size="13.9" text-anchor="end" textLength="8.6" lengthAdjust="spacingAndGlyphs" fill="#000">5</text><rect x="145" y="419" width="5" height="1" fill="#000"/><text x="140.3" y="424.20" font-size="13.9" text-anchor="end" textLength="17.2" lengthAdjust="spacingAndGlyphs" fill="#000">10</text><rect x="145" y="361" width="5" height="1" fill="#000"/><text x="140.3" y="366.45" font-size="13.9" text-anchor="end" textLength="17.2" lengthAdjust="spacingAndGlyphs" fill="#000">15</text><rect x="145" y="303" width="5" height="1" fill="#000"/><text x="140.3" y="308.70" font-size="13.9" text-anchor="end" textLength="17.2" lengthAdjust="spacingAndGlyphs" fill="#000">20</text><rect x="145" y="245" width="5" height="1" fill="#000"/><text x="140.3" y="250.95" font-size="13.9" text-anchor="end" textLength="17.2" lengthAdjust="spacingAndGlyphs" fill="#000">25</text><rect x="145" y="188" width="5" height="1" fill="#000"/><text x="140.3" y="193.20" font-size="13.9" text-anchor="end" textLength="17.2" lengthAdjust="spacingAndGlyphs" fill="#000">30</text><rect x="145" y="130" width="5" height="1" fill="#000"/><text x="140.3" y="135.45" font-size="13.9" text-anchor="end" textLength="17.2" lengthAdjust="spacingAndGlyphs" fill="#000">35</text><rect x="145" y="72" width="5" height="1" fill="#000"/><text x="140.3" y="77.70" font-size="13.9" text-anchor="end" textLength="17.2" lengthAdjust="spacingAndGlyphs" fill="#000">40</text><text x="615.3" y="573.7" font-size="13.9" text-anchor="middle" textLength="116" lengthAdjust="spacingAndGlyphs" fill="#000">Frequency (MHz)</text><text transform="translate(113.3,304.1) rotate(-90)" x="0" y="0" font-size="13.9" text-anchor="middle" textLength="85.8" lengthAdjust="spacingAndGlyphs" fill="#000">Power (CPU)</text><text x="615" y="64.3" font-size="16.67" text-anchor="middle" textLength="329.8" lengthAdjust="spacingAndGlyphs" fill="#000">2025-04-30 - Cor 208 - LWA120 - Pol YY</text><rect x="899.7" y="79.5" width="174" height="66.7" rx="2.8" ry="2.8" fill="#ffffff" fill-opacity="0.8" stroke="#cccccc" stroke-width="1.1"/><line x1="903" y1="90.8" x2="933" y2="90.8" stroke="#000" stroke-width="2.1"/><circle cx="918.3" cy="112.5" r="2.9" fill="#0000ff"/><rect x="904.2" y="128.3" width="28.8" height="9.2" fill="#cccccc" stroke="rgba(104,104,104,0.48)" stroke-width="1.35" stroke-linejoin="round"/><text x="943.3" y="94.5" font-size="13.9" textLength="121.4" lengthAdjust="spacingAndGlyphs" fill="#000">Median Spectrum</text><text x="943.3" y="115.7" font-size="13.9" textLength="123" lengthAdjust="spacingAndGlyphs" fill="#000">Flagged Channels</text><text x="943.3" y="136.7" font-size="13.9" textLength="118.4" lengthAdjust="spacingAndGlyphs" fill="#000">Median Abs. Dev.</text></svg>
</body></html>
